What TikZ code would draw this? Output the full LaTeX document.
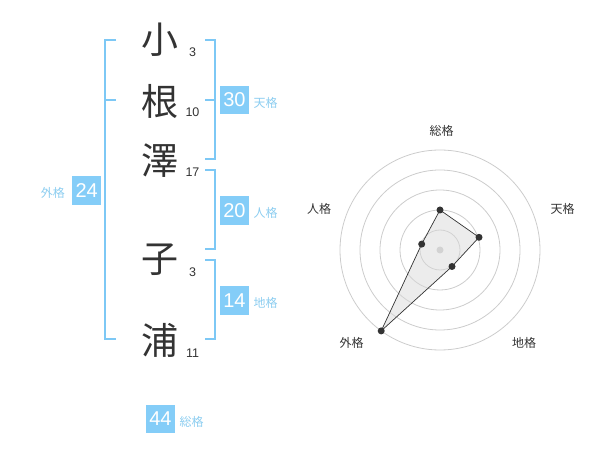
\documentclass[tikz,border=0pt]{standalone}
\usepackage{fontspec}
\setmainfont{Liberation Sans}
\newfontfamily\jp{Noto Sans CJK JP}
\definecolor{bl}{RGB}{125,200,245}
\definecolor{bx}{RGB}{132,205,248}
\definecolor{lb}{RGB}{140,205,240}
\definecolor{dk}{RGB}{51,51,51}
\definecolor{cg}{RGB}{204,204,204}
\tikzset{
  x=1pt,y=-1pt,
  kanji/.style={inner sep=0,text=dk,font=\jp\fontsize{37}{37}\selectfont},
  num/.style={inner sep=0,anchor=base,text=dk,font=\fontsize{12.5}{12.5}\selectfont},
  box/.style={fill=bx,text=white,minimum width=28.5,minimum height=28.5,inner sep=0,font=\fontsize{20}{20}\selectfont},
  lab/.style={inner sep=0,text=lb,font=\jp\fontsize{12}{12}\selectfont},
  rlab/.style={inner sep=0,text=dk,font=\jp\fontsize{12}{12}\selectfont},
  brk/.style={draw=bl,line width=2},
  ring/.style={draw=cg,line width=0.8},
  dot/.style={circle,fill=dk,inner sep=0,minimum size=7},
}
\begin{document}
\begin{tikzpicture}
\useasboundingbox (0,0) rectangle (600,470);
% kanji
\node[kanji] (k1) at (160,39.5) {小};
\node[kanji] (k2) at (160,101) {根};
\node[kanji] (k3) at (160,160.5) {澤};
\node[kanji] (k4) at (160,260) {子};
\node[kanji] (k5) at (160,340) {浦};
\node[num] (n1) at (192.5,57) {3};
\node[num] (n2) at (192.5,117) {10};
\node[num] (n3) at (192.5,177) {17};
\node[num] (n4) at (192.5,277) {3};
\node[num] (n5) at (192.5,358) {11};
% brackets
\draw[brk] (116,40) -- (105,40) -- (105,339) -- (116,339);
\draw[brk] (105,100) -- (116,100);
\draw[brk] (205,40) -- (215,40) -- (215,159) -- (205,159);
\draw[brk] (205,100) -- (215,100);
\draw[brk] (205,170) -- (215,170) -- (215,249) -- (205,249);
\draw[brk] (205,260) -- (215,260) -- (215,339) -- (205,339);
% boxes
\node[box] (b30) at (234.5,100) {30};
\node[lab,anchor=west] (l30) at (253.5,102.5) {天格};
\node[box] (b20) at (234.5,210.5) {20};
\node[lab,anchor=west] (l20) at (253.5,213) {人格};
\node[box] (b14) at (234.5,300.5) {14};
\node[lab,anchor=west] (l14) at (253.5,303) {地格};
\node[box] (b24) at (86.7,190.5) {24};
\node[lab,anchor=east] (l24) at (65,193) {外格};
\node[box] (b44) at (160.5,419) {44};
\node[lab,anchor=west] (l44) at (179.5,421.5) {総格};
% radar
\foreach \r in {20,40,60,80,100} \draw[ring] (440,250) circle[radius=\r];
\fill[cg] (440,250) circle[radius=3.5];
\coordinate (c) at (440,250);
\path (440,250) ++(0,-40) coordinate (p1)
      (440,250) ++(39,-12.7) coordinate (p2)
      (440,250) ++(12,16.5) coordinate (p3)
      (440,250) ++(-58.8,80.9) coordinate (p4)
      (440,250) ++(-18.3,-5.9) coordinate (p5);
\filldraw[fill=black!15,fill opacity=0.5,draw=dk,line width=0.7] (p1) -- (p2) -- (p3) -- (p4) -- (p5) -- cycle;
\foreach \p in {p1,p2,p3,p4,p5} \node[dot] at (\p) {};
\node[rlab] (r1) at (441.5,131) {総格};
\node[rlab] (r2) at (562.5,209) {天格};
\node[rlab] (r3) at (319,209) {人格};
\node[rlab] (r4) at (351.5,342.5) {外格};
\node[rlab] (r5) at (524,342.5) {地格};
\end{tikzpicture}
\end{document}
